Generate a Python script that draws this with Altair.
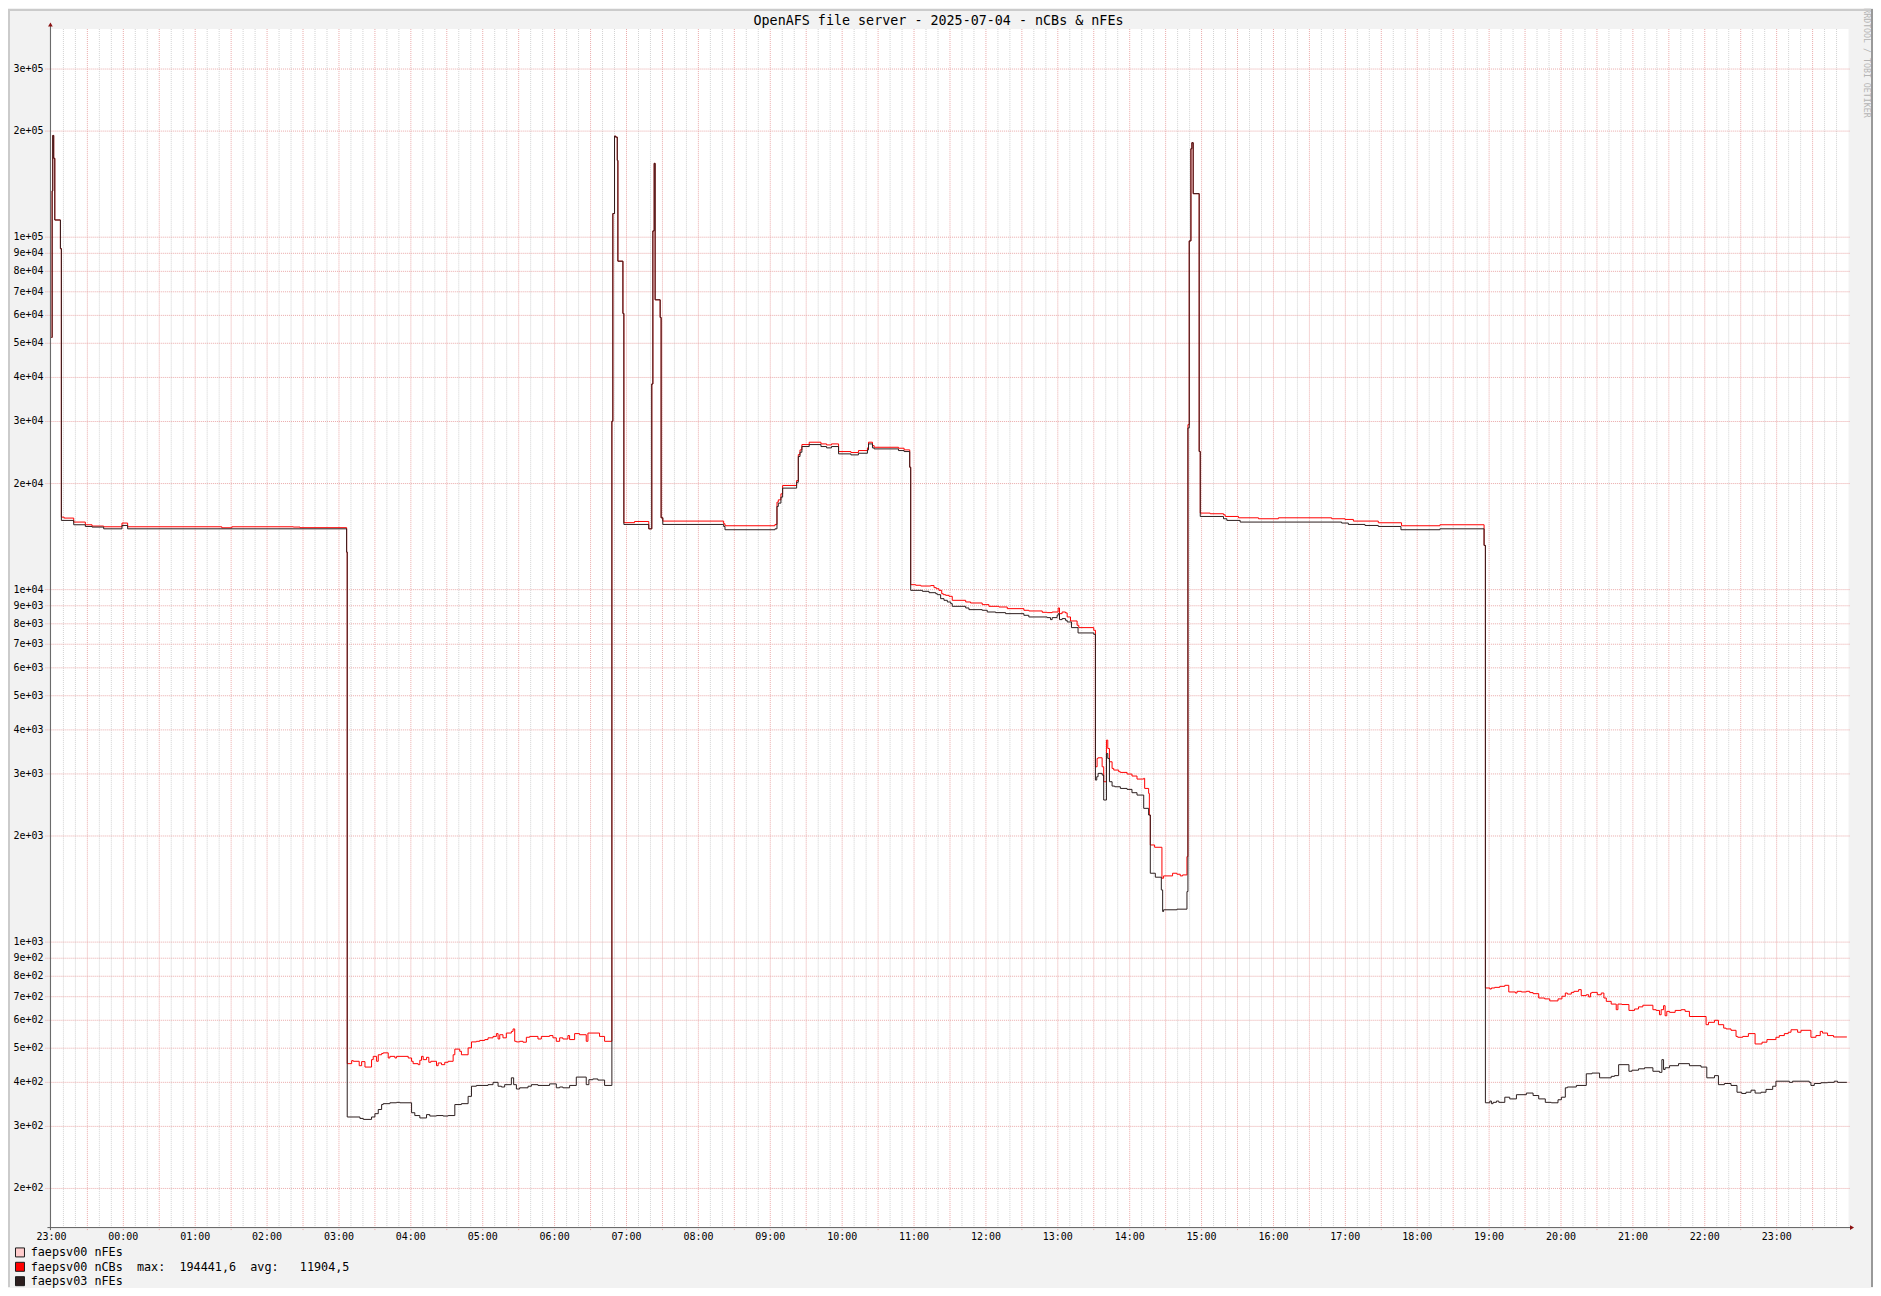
import altair as alt
import pandas as pd

MONO = "DejaVu Sans Mono"
TITLE = "OpenAFS file server - 2025-07-04 - nCBs & nFEs"
WATERMARK = "RRDTOOL / TOBI OETIKER"

# x values are minutes since 23:00 of the previous day (plot spans 23:00 -> 24:00)
X_TICKS = list(range(0, 1441, 60))
X_TICK_LABELS = ["23:00", "00:00", "01:00", "02:00", "03:00", "04:00", "05:00",
                 "06:00", "07:00", "08:00", "09:00", "10:00", "11:00", "12:00",
                 "13:00", "14:00", "15:00", "16:00", "17:00", "18:00", "19:00",
                 "20:00", "21:00", "22:00", "23:00"]
MAJOR_GRID_X = list(range(30, 1500, 30))
MINOR_GRID_X = [m for m in range(10, 1500, 10) if m % 30]

Y_TICKS = [200, 300, 400, 500, 600, 700, 800, 900,
           1000, 2000, 3000, 4000, 5000, 6000, 7000, 8000, 9000,
           10000, 20000, 30000, 40000, 50000, 60000, 70000, 80000, 90000,
           100000, 200000, 300000]
Y_TICK_LABELS = ["2e+02", "3e+02", "4e+02", "5e+02", "6e+02", "7e+02", "8e+02", "9e+02",
                 "1e+03", "2e+03", "3e+03", "4e+03", "5e+03", "6e+03", "7e+03", "8e+03", "9e+03",
                 "1e+04", "2e+04", "3e+04", "4e+04", "5e+04", "6e+04", "7e+04", "8e+04", "9e+04",
                 "1e+05", "2e+05", "3e+05"]
Y_DOMAIN = [155.4, 389700]

# faepsv00 nCBs (minute, value), step-after
NCBS = [
    (0, 51960), (0.6, 135300), (1.1, 194400), (1.9, 167400), (2.8, 111900), (7.5, 92800),
    (8.3, 16060), (10.6, 15960), (18.6, 15550), (28.3, 15280), (33.9, 15150), (43.6, 15080),
    (58.9, 15450), (63.6, 15080), (142.2, 14980), (150.6, 15080), (201.9, 15050), (207.5, 14990),
    (246.4, 12780),
    (246.9, 452), (250.6, 461), (251.9, 459), (256.9, 446), (258.9, 458), (261.7, 442),
    (267.2, 464), (268.6, 474), (271.4, 459), (272.8, 479), (275.6, 483), (276.9, 485),
    (281.1, 469), (282.5, 474), (286.7, 469), (288.1, 474), (297.8, 469), (300.6, 459),
    (301.9, 452), (306.1, 449), (307.5, 462), (308.9, 474), (310.3, 464), (313.1, 471),
    (315.0, 456), (316.7, 459), (321.4, 446), (322.8, 454), (325.6, 449), (328.3, 456),
    (331.1, 459), (335.3, 479), (336.7, 497), (340.8, 490), (342.2, 479), (347.8, 501),
    (350.6, 521), (354.7, 523), (357.5, 526), (361.7, 529), (364.4, 535), (368.6, 540),
    (371.4, 550), (372.8, 531), (374.2, 546), (376.9, 535), (379.7, 552), (383.9, 558),
    (385.3, 567), (386.7, 523), (388.1, 521), (390.8, 523), (393.6, 520), (396.4, 537),
    (399.2, 540), (406.1, 531), (408.9, 540), (415.8, 543), (418.6, 535), (421.4, 523),
    (424.2, 535), (426.9, 531), (431.1, 543), (432.5, 529), (436.7, 550), (440.8, 546),
    (446.4, 523), (447.8, 552), (457.5, 540), (461.7, 523),
    (467.8, 30050), (468.6, 116700), (470.0, 193600), (470.9, 192300), (472.3, 165200),
    (472.8, 85500), (477.0, 60760), (477.8, 15490), (486.7, 15610), (498.6, 14880),
    (501.1, 38340), (502.0, 104200), (503.1, 162000), (503.9, 66430), (508.1, 59200),
    (508.9, 15990), (510.3, 15650), (561.1, 15380), (562.2, 15180), (603.9, 15310),
    (605.6, 17710), (606.7, 17980), (608.9, 18700), (610.3, 19750), (622.0, 20400),
    (623.4, 24170), (624.8, 24920), (626.4, 25800), (632.5, 26200), (642.3, 25910),
    (647.0, 25740), (651.1, 25910), (657.0, 24650), (667.3, 24490), (673.6, 24810),
    (681.1, 25250), (682.0, 26200), (685.3, 25630), (686.7, 25350), (707.0, 25190),
    (711.7, 24920), (716.4, 22250),
    (717.2, 10330), (721.4, 10290), (725.6, 10240), (733.9, 10270), (736.7, 10130),
    (738.6, 10060), (740.8, 9955), (743.1, 9740), (744.4, 9677), (746.4, 9636), (749.2, 9573),
    (751.9, 9326), (763.1, 9226), (767.2, 9165), (776.9, 9066), (782.5, 8968), (790.8, 8929),
    (797.8, 8833), (811.7, 8738), (815.8, 8700), (827.0, 8624), (831.1, 8606), (835.3, 8642),
    (840.3, 8872), (841.4, 8549), (843.6, 8642), (846.4, 8590), (847.8, 8366), (850.6, 8150),
    (856.1, 7923), (857.5, 7803), (870.0, 7668),
    (871.4, 3144), (872.8, 3320), (873.6, 3334), (877.0, 3144), (878.3, 2851), (880.6, 3742),
    (881.7, 3543), (883.1, 3248), (885.3, 3110), (886.7, 3077), (890.8, 3044), (892.2, 3030),
    (897.8, 2998), (901.9, 2959), (906.1, 2901), (911.7, 2914), (912.5, 2729), (915.8, 2642),
    (916.4, 2294), (917.2, 1886), (920.8, 1858), (926.9, 1518), (928.3, 1541), (935.8, 1568),
    (939.4, 1558), (942.2, 1541), (944.2, 1551), (947.8, 1748),
    (948.6, 29390), (949.7, 97600), (951.1, 178300), (951.9, 185400), (953.0, 132900),
    (958.0, 24660), (958.9, 16490), (967.2, 16420), (978.3, 16310), (979.7, 16130),
    (990.8, 15990), (1007.5, 15890), (1024.1, 15990), (1068.6, 15890), (1079.7, 15820),
    (1086.7, 15650), (1107.5, 15480), (1126.9, 15180), (1158.9, 15280), (1195.8, 13350),
    (1196.9, 741), (1200.6, 736), (1201.9, 741), (1204.7, 744), (1208.9, 749), (1213.1, 754),
    (1216.4, 722), (1221.9, 717), (1223.3, 725), (1226.9, 722), (1231.1, 725), (1233.9, 719),
    (1236.7, 714), (1241.4, 694), (1246.4, 690), (1250.6, 681), (1257.5, 690), (1260.8, 702),
    (1263.6, 717), (1265.3, 712), (1268.6, 720), (1270.8, 725), (1274.7, 733), (1276.9, 705),
    (1281.1, 709), (1283.1, 699), (1284.7, 717), (1285.8, 720), (1290.3, 709), (1293.6, 717),
    (1295.8, 694), (1297.8, 679), (1301.9, 667), (1306.1, 643), (1307.5, 667), (1310.8, 665),
    (1316.7, 640), (1321.4, 646), (1324.7, 655), (1328.3, 662), (1336.7, 643), (1339.4, 640),
    (1342.2, 622), (1343.6, 643), (1345.6, 660), (1346.9, 618), (1348.3, 636), (1350.6, 632),
    (1355.3, 640), (1360.3, 643), (1363.6, 636), (1367.2, 615), (1381.1, 583), (1383.1, 592),
    (1388.1, 600), (1391.4, 583), (1395.8, 570), (1397.8, 567), (1401.9, 562), (1406.1, 540),
    (1407.5, 537), (1411.7, 540), (1416.4, 550), (1422.0, 514), (1427.8, 520), (1431.9, 529),
    (1439.4, 537), (1442.2, 543), (1446.4, 550), (1449.7, 555), (1452.0, 564), (1457.5, 555),
    (1460.3, 562), (1468.6, 537), (1472.8, 543), (1476.4, 558), (1478.3, 552), (1482.5, 543),
    (1487.5, 538), (1498.6, 538),
]

# faepsv03 nFEs (minute, value), step-after
NFES03 = [
    (0, 51960), (0.6, 135300), (1.1, 194400), (1.9, 167400), (2.8, 111900), (7.5, 92800),
    (8.3, 15720), (18.6, 15280), (28.3, 15110), (33.9, 15050), (43.6, 14880), (58.9, 15210),
    (63.6, 14880), (246.4, 12780),
    (246.9, 319), (257.5, 316), (260.3, 314), (267.2, 319), (270.0, 326), (272.8, 335),
    (275.6, 346), (276.9, 348), (282.5, 350), (288.1, 351), (290.8, 350), (300.6, 328),
    (303.3, 322), (307.5, 317), (313.1, 324), (315.8, 321), (321.4, 322), (326.9, 321),
    (331.1, 322), (336.7, 346), (342.2, 348), (347.8, 365), (350.6, 390), (354.7, 392),
    (364.4, 394), (368.6, 400), (372.8, 390), (375.6, 388), (378.3, 394), (383.9, 412),
    (385.8, 394), (388.1, 383), (390.8, 386), (397.8, 390), (400.6, 394), (406.1, 392),
    (415.8, 396), (421.4, 386), (424.2, 388), (426.9, 386), (432.5, 392), (438.1, 414),
    (446.4, 394), (448.6, 407), (451.9, 409), (456.1, 406), (461.7, 392),
    (467.8, 30050), (468.6, 116700), (470.0, 193600), (470.9, 192300), (472.3, 165200),
    (472.8, 85500), (477.0, 60760), (477.8, 15310), (498.6, 14880), (501.1, 38340),
    (502.0, 104200), (503.1, 162000), (503.9, 66430), (508.1, 59200), (508.9, 15990),
    (510.3, 15310), (561.1, 15110), (562.2, 14790), (603.9, 14880), (605.6, 17220),
    (606.7, 17600), (608.9, 18300), (610.3, 19410), (622.0, 20170), (623.4, 23860),
    (624.8, 24540), (626.4, 25470), (632.5, 25800), (642.3, 25470), (647.0, 25250),
    (651.1, 25470), (657.0, 24280), (667.3, 24120), (673.6, 24380), (681.1, 24920),
    (682.0, 25910), (685.3, 25250), (686.7, 25080), (707.0, 24810), (711.7, 24650),
    (716.4, 22250),
    (717.2, 9955), (727.0, 9890), (732.5, 9804), (738.1, 9740), (739.4, 9677), (742.2, 9428),
    (745.0, 9326), (747.8, 9226), (750.6, 9126), (751.9, 8968), (763.1, 8872), (765.8, 8776),
    (776.9, 8738), (781.1, 8642), (788.1, 8606), (796.4, 8549), (811.7, 8457), (815.8, 8366),
    (831.1, 8330), (833.9, 8222), (835.3, 8330), (839.4, 8457), (840.3, 8549), (841.4, 8222),
    (843.6, 8277), (846.4, 8185), (847.8, 8097), (851.4, 7803), (856.9, 7536), (870.0, 7469),
    (871.4, 2882), (872.5, 2946), (873.6, 3011), (877.0, 2978), (878.3, 2530), (880.6, 3429),
    (881.7, 3320), (883.1, 2851), (885.3, 2771), (887.5, 2759), (892.2, 2729), (897.8, 2712),
    (901.9, 2654), (906.1, 2613), (911.7, 2396), (915.8, 2294), (917.2, 1568), (921.4, 1528),
    (926.4, 1406), (927.5, 1221), (928.3, 1235), (939.4, 1240), (947.8, 1391),
    (948.6, 28760), (949.7, 97600), (951.1, 178300), (951.9, 185400), (953.0, 132900),
    (958.0, 24660), (958.9, 16130), (978.3, 15890), (981.1, 15720), (992.2, 15550),
    (1076.9, 15450), (1082.5, 15310), (1096.4, 15210), (1107.5, 15110), (1126.4, 14790),
    (1158.9, 14880), (1195.8, 13350),
    (1196.9, 350), (1200.6, 354), (1201.9, 348), (1203.3, 351), (1206.1, 354), (1208.1, 351),
    (1213.1, 363), (1217.2, 359), (1222.8, 369), (1231.1, 373), (1236.7, 367), (1241.4, 359),
    (1246.9, 351), (1251.9, 350), (1257.5, 357), (1260.3, 363), (1263.6, 386), (1265.3, 388),
    (1272.8, 392), (1281.1, 423), (1285.8, 425), (1292.2, 412), (1301.9, 416), (1304.7, 418),
    (1308.1, 449), (1316.7, 430), (1319.2, 433), (1324.7, 437), (1329.7, 440), (1336.7, 430),
    (1342.2, 427), (1344.2, 464), (1345.6, 435), (1346.9, 440), (1350.6, 446), (1358.1, 452),
    (1367.2, 446), (1376.9, 442), (1381.7, 412), (1388.1, 418), (1391.4, 394), (1396.4, 397),
    (1401.9, 392), (1406.9, 375), (1410.8, 372), (1414.4, 375), (1418.6, 380), (1422.0, 373),
    (1427.0, 375), (1431.1, 382), (1436.7, 390), (1439.4, 403), (1450.6, 400), (1453.3, 403),
    (1467.2, 400), (1468.6, 392), (1471.4, 397), (1476.9, 399), (1482.5, 400), (1488.1, 403),
    (1490.8, 400), (1498.6, 400),
]

NB = "\u00a0"
LEGEND_LABELS = [
    "faepsv00 nFEs",
    "faepsv00 nCBs" + NB * 2 + "max:" + NB * 2 + "194441,6" + NB * 2 + "avg:" + NB * 3 + "11904,5",
    "faepsv03 nFEs",
]
LEGEND_COLORS = ["#ffcccc", "#ff0000", "#2c1e1e"]

# ---- styles / layout ----
W, H = 1800, 1200
BG = "#f2f2f2"
GRID_MINOR = "#d2d2d2"
GRID_MAJOR = "#eaaaaa"
AXIS_COLOR = "#606060"
ARROW_COLOR = "#8b1010"

xscale = alt.Scale(domain=[0, 1500], nice=False, zero=False)
yscale = alt.Scale(type="log", domain=Y_DOMAIN, nice=False)
one = pd.DataFrame({"k": [0]})

layers = []

# vertical grid
layers.append(
    alt.Chart(pd.DataFrame({"t": MINOR_GRID_X})).mark_rule(
        color=GRID_MINOR, strokeWidth=1, strokeDash=[1, 1]
    ).encode(x=alt.X("t:Q", scale=xscale, axis=None), y=alt.value(0), y2=alt.value(H + 2))
)
layers.append(
    alt.Chart(pd.DataFrame({"t": MAJOR_GRID_X})).mark_rule(
        color=GRID_MAJOR, strokeWidth=1, strokeDash=[1, 1]
    ).encode(x=alt.X("t:Q", scale=xscale, axis=None), y=alt.value(0), y2=alt.value(H + 3))
)
# horizontal grid
layers.append(
    alt.Chart(pd.DataFrame({"v": Y_TICKS})).mark_rule(
        color=GRID_MAJOR, strokeWidth=1, strokeDash=[1, 1]
    ).encode(y=alt.Y("v:Q", scale=yscale, axis=None), x=alt.value(-6), x2=alt.value(W + 1))
)

# data lines
def series_df(pairs):
    return pd.DataFrame({"t": [p[0] for p in pairs], "v": [p[1] for p in pairs]})

layers.append(
    alt.Chart(series_df(NCBS)).mark_line(
        interpolate="step-after", color=LEGEND_COLORS[1], strokeWidth=1
    ).encode(x=alt.X("t:Q", scale=xscale, axis=None), y=alt.Y("v:Q", scale=yscale, axis=None))
)
layers.append(
    alt.Chart(series_df(NFES03)).mark_line(
        interpolate="step-after", color=LEGEND_COLORS[2], strokeWidth=1
    ).encode(x=alt.X("t:Q", scale=xscale, axis=None), y=alt.Y("v:Q", scale=yscale, axis=None))
)

# axis lines and arrows
layers.append(
    alt.Chart(one).mark_rule(color=AXIS_COLOR, strokeWidth=1).encode(
        x=alt.value(-1), y=alt.value(-4), y2=alt.value(H + 3))
)
layers.append(
    alt.Chart(one).mark_rule(color=AXIS_COLOR, strokeWidth=1).encode(
        x=alt.value(-4), x2=alt.value(W + 2), y=alt.value(H + 0.5))
)
layers.append(
    alt.Chart(one).mark_point(shape="triangle-up", filled=True, color=ARROW_COLOR, size=22, opacity=1).encode(
        x=alt.value(-1), y=alt.value(-4.5))
)
layers.append(
    alt.Chart(one).mark_point(shape="triangle-right", filled=True, color=ARROW_COLOR, size=22, opacity=1).encode(
        x=alt.value(W + 3.5), y=alt.value(H + 0.5))
)

# tick labels
layers.append(
    alt.Chart(pd.DataFrame({"v": Y_TICKS, "lab": Y_TICK_LABELS})).mark_text(
        align="right", baseline="middle", font=MONO, fontSize=10, color="#000000"
    ).encode(y=alt.Y("v:Q", scale=yscale, axis=None), x=alt.value(-8), text="lab:N")
)
layers.append(
    alt.Chart(pd.DataFrame({"t": X_TICKS, "lab": X_TICK_LABELS})).mark_text(
        align="center", baseline="alphabetic", font=MONO, fontSize=10, color="#000000"
    ).encode(x=alt.X("t:Q", scale=xscale, axis=None), y=alt.value(H + 12.7), text="lab:N")
)

# title
layers.append(
    alt.Chart(one).mark_text(
        text=TITLE, font=MONO, fontSize=13.4, align="center", baseline="alphabetic", color="#000000"
    ).encode(x=alt.value(888.5), y=alt.value(-4.5))
)

# watermark (vertical, right edge)
layers.append(
    alt.Chart(one).mark_text(
        text=WATERMARK, font=MONO, fontSize=8.3, angle=90, align="center", baseline="middle", color="#b4b4b4"
    ).encode(x=alt.value(W + 17), y=alt.value(34))
)

# legend
for i, (lab, col) in enumerate(zip(LEGEND_LABELS, LEGEND_COLORS)):
    yy = H + 25.4 + i * 14.4
    layers.append(
        alt.Chart(one).mark_square(size=81, filled=True, color=col, stroke="#1a1a1a", strokeWidth=1, opacity=1).encode(
            x=alt.value(-31.5), y=alt.value(yy))
    )
    layers.append(
        alt.Chart(one).mark_text(
            text=lab, font=MONO, fontSize=11.8, align="left", baseline="middle", color="#000000"
        ).encode(x=alt.value(-20.8), y=alt.value(yy))
    )

# outer frame (3D look: light top/left, dark right)
layers.append(alt.Chart(one).mark_rule(color="#cbcbcb", strokeWidth=2).encode(
    x=alt.value(-43.5), x2=alt.value(W + 24.5), y=alt.value(-19)))
layers.append(alt.Chart(one).mark_rule(color="#cbcbcb", strokeWidth=2).encode(
    x=alt.value(-42.5), y=alt.value(-20), y2=alt.value(H + 60)))
layers.append(alt.Chart(one).mark_rule(color="#999999", strokeWidth=2).encode(
    x=alt.value(W + 23.5), y=alt.value(-20), y2=alt.value(H + 60)))

chart = alt.layer(*layers).properties(
    width=W,
    height=H,
    autosize=alt.AutoSizeParams(type="none"),
    padding={"left": 43.5, "top": 20, "right": 24.5, "bottom": 60},
    background=BG,
).configure_view(stroke=None, fill="#ffffff")

chart.save("out.html", embed_options={"renderer": "svg", "actions": False})
